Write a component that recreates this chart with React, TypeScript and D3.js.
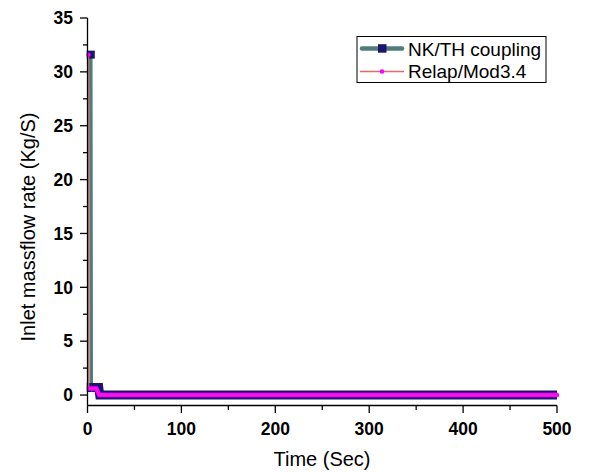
import React from "react";
import * as d3 from "d3";

const nkTime = [3.5, 4, 12, 13, 500];
const nkFlow = [31.6, 0.7, 0.7, 0.0, 0.0];
const relapTime = [1, 1.3, 9.5, 12.5, 500];
const relapFlow = [31.6, 0.6, 0.6, 0.0, 0.0];
const xTicks = [0, 100, 200, 300, 400, 500];
const xMinor = [50, 150, 250, 350, 450];
const yTicks = [0, 5, 10, 15, 20, 25, 30, 35];
const yMinor = [2.5, 7.5, 12.5, 17.5, 22.5, 27.5, 32.5];
const seriesNames = ["NK/TH coupling", "Relap/Mod3.4"];

const W = 614, H = 472;
const left = 87.5, right = 557, top = 18, bottom = 405.5;

export default function App() {
  const x = d3.scaleLinear().domain([0, 500]).range([left, right]);
  const y = d3.scaleLinear().domain([-0.97, 35]).range([bottom, top]);
  const nk = nkTime.map((t, i) => [t, nkFlow[i]] as [number, number]);
  const rl = relapTime.map((t, i) => [t, relapFlow[i]] as [number, number]);
  const line = d3.line<[number, number]>().x(d => x(d[0])).y(d => y(d[1]));
  const font = "Arial, 'Liberation Sans', sans-serif";
  const teal = "#4f7d7a";
  const navy = "#1c1470";
  const red = "#e26a6a";
  const magenta = "#ff00ff";
  return (
    <svg width={W} height={H} style={{ position: "absolute", left: 0, top: 0, background: "#fff" }} fontFamily={font}>
      {/* NK/TH series */}
      <path d={line(nk) || ""} fill="none" stroke={teal} strokeWidth={3.5} />
      <path d={line(nk.slice(1)) || ""} fill="none" stroke={navy} strokeWidth={9} strokeLinejoin="miter" />
      <rect x={x(nk[1][0]) - 4.5} y={y(nk[1][1]) - 4.5} width={4.5} height={9} fill={navy} />
      <rect x={x(nk[0][0]) - 4} y={y(nk[0][1]) - 4} width={8} height={8} fill={navy} />
      {/* Relap series */}
      <path d={line(rl) || ""} fill="none" stroke={red} strokeWidth={1.3} />
      <path d={line(rl.slice(1)) || ""} fill="none" stroke={magenta} strokeWidth={4.5} strokeLinecap="round" />
      <circle cx={x(rl[0][0])} cy={y(rl[0][1])} r={2.2} fill={magenta} />
      <path d={line(rl.slice(1)) || ""} fill="none" stroke={red} strokeWidth={0.8} opacity={0.5} />

      {/* axes */}
      <line x1={left} x2={left} y1={top} y2={bottom} stroke="#000" strokeWidth={1.3} />
      <line x1={left} x2={right} y1={bottom} y2={bottom} stroke="#000" strokeWidth={1.3} />
      {yTicks.map(v => (
        <g key={"y" + v}>
          <line x1={left - 7.5} x2={left} y1={y(v)} y2={y(v)} stroke="#000" strokeWidth={1.3} />
          <text x={left - 14.5} y={y(v)} dy="0.36em" textAnchor="end" fontSize={17.5} fontWeight="bold">{v}</text>
        </g>
      ))}
      {yMinor.map(v => (
        <line key={"ym" + v} x1={left - 4.5} x2={left} y1={y(v)} y2={y(v)} stroke="#000" strokeWidth={1.3} />
      ))}
      {xTicks.map(v => (
        <g key={"x" + v}>
          <line x1={x(v)} x2={x(v)} y1={bottom} y2={bottom + 7.5} stroke="#000" strokeWidth={1.3} />
          <text x={x(v)} y={435} textAnchor="middle" fontSize={17.5} fontWeight="bold">{v}</text>
        </g>
      ))}
      {xMinor.map(v => (
        <line key={"xm" + v} x1={x(v)} x2={x(v)} y1={bottom} y2={bottom + 4.5} stroke="#000" strokeWidth={1.3} />
      ))}
      <text x={322} y={466} textAnchor="middle" fontSize={20}>Time (Sec)</text>
      <text transform={`translate(35, 227) rotate(-90)`} textAnchor="middle" fontSize={20}>Inlet massflow rate (Kg/S)</text>

      {/* legend */}
      <rect x={357} y={36.5} width={189} height={46} fill="#fff" stroke="#000" strokeWidth={1} />
      <line x1={362} x2={402} y1={48.5} y2={48.5} stroke={teal} strokeWidth={4.5} strokeLinecap="round" />
      <rect x={378} y={44.2} width={8.5} height={8.5} fill={navy} />
      <text x={408} y={55.5} fontSize={19}>{seriesNames[0]}</text>
      <line x1={360} x2={404} y1={71.5} y2={71.5} stroke={red} strokeWidth={1.3} />
      <circle cx={382} cy={71.5} r={2.3} fill={magenta} />
      <text x={408} y={78.3} fontSize={19}>{seriesNames[1]}</text>
    </svg>
  );
}
